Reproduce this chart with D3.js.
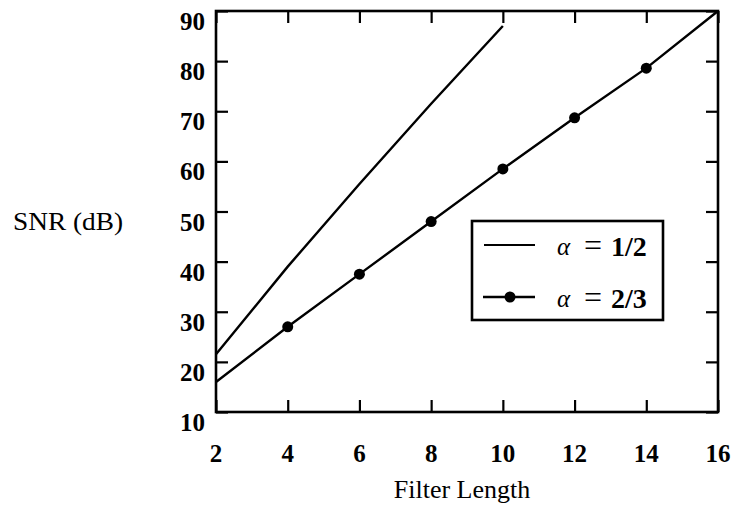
<!DOCTYPE html>
<html>
<head>
<script src="https://cdn.jsdelivr.net/npm/d3@7"></script>
<style>
  body { margin: 0; background: #fff; }
  text { font-family: "Liberation Serif", "DejaVu Serif", serif; }
</style>
</head>
<body>
<svg width="732" height="512"></svg>
<script>
// data
var xTicks = [2, 4, 6, 8, 10, 12, 14, 16];
var yTicks = [10, 20, 30, 40, 50, 60, 70, 80, 90];
var halfX = [2, 4, 6, 8, 10];
var halfY = [21.5, 39, 55.5, 71.5, 87];
var twoThirdsX = [2, 4, 6, 8, 10, 12, 14, 16];
var twoThirdsY = [16, 27, 37.5, 48, 58.5, 68.7, 78.6, 90];
var markerX = [4, 6, 8, 10, 12, 14];

var svg = d3.select("svg");
var m = { left: 216, right: 718, top: 11, bottom: 412 };

var x = d3.scaleLinear().domain([2, 16]).range([m.left, m.right]);
var y = d3.scaleLinear().domain([10, 90]).range([m.bottom, m.top]);

// ticks on all four sides, pointing in
var tl = 12;
svg.append("g").attr("transform", "translate(0," + m.bottom + ")")
  .call(d3.axisBottom(x).tickValues(xTicks).tickSize(-tl).tickFormat(""));
svg.append("g").attr("transform", "translate(0," + m.top + ")")
  .call(d3.axisTop(x).tickValues(xTicks).tickSize(-tl).tickFormat(""));
svg.append("g").attr("transform", "translate(" + m.left + ",0)")
  .call(d3.axisLeft(y).tickValues(yTicks).tickSize(-tl).tickFormat(""));
svg.append("g").attr("transform", "translate(" + m.right + ",0)")
  .call(d3.axisRight(y).tickValues(yTicks).tickSize(-tl).tickFormat(""));
svg.selectAll(".domain").remove();
svg.selectAll(".tick line").attr("stroke", "#000").attr("stroke-width", 2.2);

// frame
svg.append("rect").attr("x", m.left).attr("y", m.top)
  .attr("width", m.right - m.left).attr("height", m.bottom - m.top)
  .attr("fill", "none").attr("stroke", "#000").attr("stroke-width", 2.6);

// tick labels
svg.selectAll(".xl").data(xTicks).enter().append("text")
  .attr("x", function(d) { return x(d); })
  .attr("y", 462)
  .attr("text-anchor", "middle")
  .attr("font-size", 25).attr("font-weight", "bold")
  .text(function(d) { return d; });
svg.selectAll(".yl").data(yTicks).enter().append("text")
  .attr("x", 205)
  .attr("y", function(d) { return y(d) + 19; })
  .attr("text-anchor", "end")
  .attr("font-size", 25).attr("font-weight", "bold")
  .text(function(d) { return d; });

// axis titles
svg.append("text").attr("x", 13).attr("y", 230)
  .attr("font-size", 25).attr("textLength", 110).attr("lengthAdjust", "spacingAndGlyphs")
  .text("SNR (dB)");
svg.append("text").attr("x", 462).attr("y", 498)
  .attr("text-anchor", "middle").attr("font-size", 26).text("Filter Length");

var line = d3.line()
  .x(function(d) { return x(d[0]); })
  .y(function(d) { return y(d[1]); });

svg.append("path")
  .attr("d", line(d3.zip(halfX, halfY)))
  .attr("fill", "none").attr("stroke", "#000").attr("stroke-width", 2.4);
svg.append("path")
  .attr("d", line(d3.zip(twoThirdsX, twoThirdsY)))
  .attr("fill", "none").attr("stroke", "#000").attr("stroke-width", 2.4);

svg.selectAll(".mk").data(markerX).enter().append("circle")
  .attr("cx", function(d) { return x(d); })
  .attr("cy", function(d) { return y(twoThirdsY[twoThirdsX.indexOf(d)]); })
  .attr("r", 5.5).attr("fill", "#000");

// legend
var lg = svg.append("g").attr("transform", "translate(472,221)");
lg.append("rect").attr("width", 191).attr("height", 99)
  .attr("fill", "#fff").attr("stroke", "#000").attr("stroke-width", 2.6);
lg.append("line").attr("x1", 12).attr("x2", 63).attr("y1", 24).attr("y2", 24)
  .attr("stroke", "#000").attr("stroke-width", 2.2);
lg.append("line").attr("x1", 11).attr("x2", 63).attr("y1", 76).attr("y2", 76)
  .attr("stroke", "#000").attr("stroke-width", 2.4);
lg.append("circle").attr("cx", 38).attr("cy", 76).attr("r", 5.5).attr("fill", "#000");

function legendText(yy, frac) {
  lg.append("text").attr("x", 85).attr("y", yy).attr("font-size", 25)
    .attr("font-style", "italic").text("\u03b1");
  lg.append("text").attr("x", 121).attr("y", yy + 1).attr("font-size", 32)
    .attr("text-anchor", "middle").text("=");
  lg.append("text").attr("x", 139).attr("y", yy + 1).attr("font-size", 28)
    .attr("font-weight", "bold").text(frac);
}
legendText(34, "1/2");
legendText(86, "2/3");
</script>
</body>
</html>
